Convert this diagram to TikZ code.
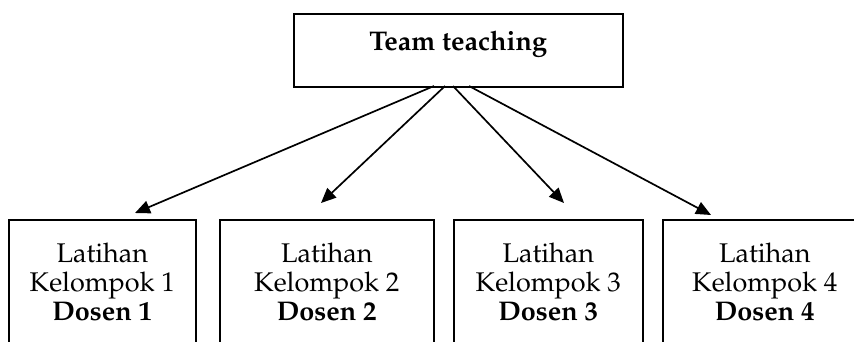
\documentclass[tikz,border=0pt]{standalone}
\usepackage[T1]{fontenc}
\usepackage{mathpazo}
\usetikzlibrary{arrows.meta}
\begin{document}
\begin{tikzpicture}[x=1pt,y=-1pt,
  boxstyle/.style={draw=black,line width=1.6pt,inner sep=0pt,anchor=north west,align=center,
    font=\fontsize{27}{29}\selectfont},
  arr/.style={line width=1.7pt,-{Triangle[length=15pt,width=13pt]}}]
\useasboundingbox (0,0) rectangle (854,341);
\node[boxstyle,minimum width=329,minimum height=73,text height=12pt,text depth=12pt] (top) at (293,13) {\textbf{Team teaching}};
\node[boxstyle,minimum width=187,minimum height=124] (b1) at (8,219) {Latihan\\Kelompok 1\\\textbf{Dosen 1}};
\node[boxstyle,minimum width=214,minimum height=124] (b2) at (219,219) {Latihan\\Kelompok 2\\\textbf{Dosen 2}};
\node[boxstyle,minimum width=189,minimum height=124] (b3) at (453,219) {Latihan\\Kelompok 3\\\textbf{Dosen 3}};
\node[boxstyle,minimum width=204,minimum height=124] (b4) at (662,219) {Latihan\\Kelompok 4\\\textbf{Dosen 4}};
\coordinate (s1) at (434,86);
\coordinate (s2) at (445,86);
\coordinate (s3) at (453,86);
\coordinate (s4) at (469,86);
\coordinate (t1) at (135,213);
\coordinate (t2) at (321,203);
\coordinate (t3) at (564,203);
\coordinate (t4) at (711,215);
\draw[arr] (s1) -- (t1);
\draw[arr] (s2) -- (t2);
\draw[arr] (s3) -- (t3);
\draw[arr] (s4) -- (t4);
\end{tikzpicture}
\end{document}
